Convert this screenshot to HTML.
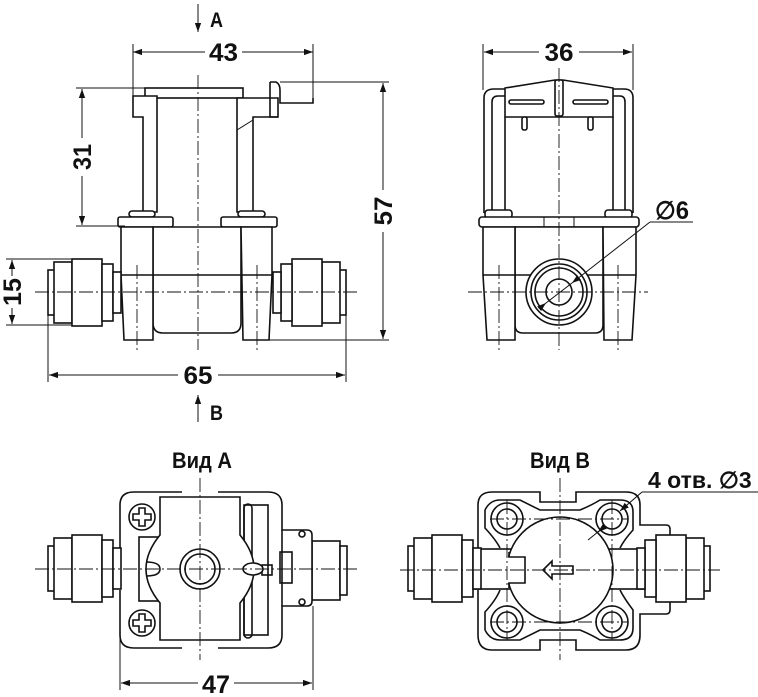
<!DOCTYPE html>
<html><head><meta charset="utf-8"><style>
html,body{margin:0;padding:0;background:#fff}
svg{display:block}
text{font-family:"Liberation Sans Narrow","Liberation Sans",sans-serif;font-weight:bold;fill:#111}
.s{fill:#fff;stroke:#111;stroke-width:1.6}
.n{fill:none;stroke:#111;stroke-width:1.6}
.t{fill:none;stroke:#111;stroke-width:1}
.c{fill:none;stroke:#111;stroke-width:0.9;stroke-dasharray:14 3 2 3}
</style></head><body>
<svg width="758" height="697" viewBox="0 0 758 697">
<defs>
<marker id="a" viewBox="0 0 10 10" refX="10" refY="5" markerWidth="9" markerHeight="9" orient="auto-start-reverse" markerUnits="userSpaceOnUse"><path d="M0,1.5 L10,5 L0,8.5 Z" fill="#111"/></marker>
<g id="fitL">
<rect class="s" x="48" y="270" width="7" height="45"/>
<rect class="s" x="54" y="262" width="18" height="61"/>
<rect class="s" x="72" y="259" width="30" height="67"/>
<rect class="s" x="102" y="264" width="11" height="57"/>
<rect class="s" x="113" y="272" width="8" height="41"/>
</g>
</defs>

<!-- ===== FRONT VIEW ===== -->
<line class="t" x1="198" y1="4" x2="198" y2="32" marker-end="url(#a)"/>
<text x="210" y="27" font-size="21" textLength="13" lengthAdjust="spacingAndGlyphs">A</text>
<line class="t" x1="133" y1="44" x2="133" y2="96"/>
<line class="t" x1="313" y1="44" x2="313" y2="103"/>
<line class="t" x1="133" y1="52" x2="205" y2="52" marker-start="url(#a)"/>
<line class="t" x1="242" y1="52" x2="313" y2="52" marker-end="url(#a)"/>
<text x="209" y="61" font-size="25" textLength="29" lengthAdjust="spacingAndGlyphs">43</text>

<rect class="s" x="145" y="88" width="98" height="10"/>
<path class="s" d="M133,96 H157 V212 H143 V117 H133 Z"/>
<path class="s" d="M237,98 H278 V117 H253 V212 H237 Z"/>
<line class="t" x1="237" y1="130" x2="253" y2="120"/>
<path class="s" d="M270,82 H276 Q280,84 280,90 V103 H313 V98"/>
<path class="n" d="M270,82 V117 H278"/>
<rect class="s" x="129" y="211" width="26" height="6" rx="3"/>
<rect class="s" x="238" y="211" width="27" height="6" rx="3"/>
<rect class="s" x="118" y="217" width="55" height="10" rx="2"/>
<rect class="s" x="221" y="217" width="56" height="10" rx="2"/>

<path class="s" d="M153,227 H241 V323 Q241,333 231,333 H163 Q153,333 153,323 Z"/>
<path class="s" d="M121,227 H153 V340 H124 L121,275 Z"/>
<path class="s" d="M241,227 H272 V275 L269,340 H243 Z"/>
<line class="n" x1="121" y1="275" x2="272" y2="275"/>
<use href="#fitL"/>
<use href="#fitL" transform="translate(394,0) scale(-1,1)"/>
<line class="c" x1="137" y1="265" x2="137" y2="350"/>
<line class="c" x1="257" y1="265" x2="257" y2="350"/>
<line class="c" x1="35" y1="292" x2="360" y2="292"/>
<line class="c" x1="198" y1="75" x2="198" y2="350"/>

<line class="t" x1="76" y1="88" x2="145" y2="88"/>
<line class="t" x1="76" y1="226" x2="125" y2="226"/>
<line class="t" x1="82" y1="89" x2="82" y2="138" marker-start="url(#a)"/>
<line class="t" x1="82" y1="176" x2="82" y2="225" marker-end="url(#a)"/>
<text transform="translate(91,157) rotate(-90)" font-size="25" text-anchor="middle" textLength="26" lengthAdjust="spacingAndGlyphs">31</text>
<line class="t" x1="280" y1="82" x2="389" y2="82"/>
<line class="t" x1="269" y1="340" x2="389" y2="340"/>
<line class="t" x1="383" y1="83" x2="383" y2="190" marker-start="url(#a)"/>
<line class="t" x1="383" y1="232" x2="383" y2="339" marker-end="url(#a)"/>
<text transform="translate(392,211) rotate(-90)" font-size="25" text-anchor="middle" textLength="29" lengthAdjust="spacingAndGlyphs">57</text>
<line class="t" x1="6" y1="259" x2="72" y2="259"/>
<line class="t" x1="6" y1="325" x2="72" y2="325"/>
<line class="t" x1="12" y1="260" x2="12" y2="276" marker-start="url(#a)"/>
<line class="t" x1="12" y1="308" x2="12" y2="324" marker-end="url(#a)"/>
<text transform="translate(21,292) rotate(-90)" font-size="25" text-anchor="middle" textLength="28" lengthAdjust="spacingAndGlyphs">15</text>
<line class="t" x1="48" y1="315" x2="48" y2="382"/>
<line class="t" x1="346" y1="315" x2="346" y2="382"/>
<line class="t" x1="49" y1="375" x2="178" y2="375" marker-start="url(#a)"/>
<line class="t" x1="218" y1="375" x2="345" y2="375" marker-end="url(#a)"/>
<text x="198" y="384" font-size="25" text-anchor="middle" textLength="29" lengthAdjust="spacingAndGlyphs">65</text>
<line class="t" x1="198" y1="422" x2="198" y2="395" marker-end="url(#a)"/>
<text x="210" y="420" font-size="21" textLength="13" lengthAdjust="spacingAndGlyphs">B</text>

<!-- ===== SIDE VIEW ===== -->
<line class="t" x1="483" y1="44" x2="483" y2="90"/>
<line class="t" x1="633" y1="44" x2="633" y2="90"/>
<line class="t" x1="484" y1="52" x2="539" y2="52" marker-start="url(#a)"/>
<line class="t" x1="579" y1="52" x2="632" y2="52" marker-end="url(#a)"/>
<text x="559" y="61" font-size="25" text-anchor="middle" textLength="29" lengthAdjust="spacingAndGlyphs">36</text>
<path class="n" d="M484,213 V98 Q484,89 494,89 H505 M613,89 H624 Q633,89 633,98 V213"/>
<path class="n" d="M492,213 V102 Q492,96 498,96 H505 M613,96 H620 Q625,96 625,102 V213"/>
<path class="s" d="M505,88 L555,80 H563 L613,88 V117 H505 Z"/>
<rect class="s" x="555" y="80" width="8" height="36" rx="2"/>
<rect class="s" x="509" y="100" width="35" height="4" rx="2"/>
<rect class="s" x="573" y="100" width="35" height="4" rx="2"/>
<rect class="s" x="522" y="117" width="5" height="13" rx="2"/>
<rect class="s" x="588" y="117" width="5" height="13" rx="2"/>
<line class="n" x1="505" y1="117" x2="505" y2="213"/>
<line class="n" x1="613" y1="117" x2="613" y2="213"/>
<rect class="s" x="485" y="210" width="27" height="8" rx="3"/>
<rect class="s" x="605" y="210" width="27" height="8" rx="3"/>
<rect class="s" x="479" y="217" width="160" height="10" rx="3"/>
<line class="t" x1="544" y1="217" x2="544" y2="227"/>
<line class="t" x1="574" y1="217" x2="574" y2="227"/>
<path class="s" d="M515,227 H603 V325 Q603,333 595,333 H523 Q515,333 515,325 Z"/>
<path class="s" d="M483,227 H515 V340 H487 L483,275 Z"/>
<path class="s" d="M603,227 H636 V275 L632,340 H604 Z"/>
<line class="n" x1="483" y1="275" x2="636" y2="275"/>
<circle class="s" cx="559" cy="292" r="33"/>
<circle class="n" cx="559" cy="292" r="28"/>
<circle class="n" cx="559" cy="292" r="24"/>
<circle class="n" cx="559" cy="292" r="13"/>
<line class="c" x1="468" y1="292" x2="648" y2="292"/>
<line class="c" x1="559" y1="68" x2="559" y2="350"/>
<line class="c" x1="499" y1="265" x2="499" y2="350"/>
<line class="c" x1="618" y1="265" x2="618" y2="350"/>
<line class="t" x1="693" y1="222" x2="650" y2="222"/>
<line class="t" x1="650" y1="222" x2="572" y2="283" marker-end="url(#a)"/>
<line class="t" x1="540" y1="308" x2="546" y2="303" marker-end="url(#a)"/>
<line class="t" x1="546" y1="303" x2="572" y2="283"/>
<text x="655" y="219" font-size="25" textLength="34" lengthAdjust="spacingAndGlyphs">∅6</text>

<!-- ===== ВИД A ===== -->
<text x="172" y="468" font-size="22" textLength="60" lengthAdjust="spacingAndGlyphs">Вид A</text>
<rect class="s" x="312" y="541" width="28" height="59"/>
<rect class="s" x="340" y="546" width="7" height="49"/>
<path class="s" d="M120,548 V505 Q120,492 134,492 H182 M218,492 H268 Q282,492 282,505 V530 H307 Q312,530 312,535 V553 H312 V585 H312 V601 Q312,606 307,606 H282 V635 Q282,648 268,648 H218 M182,648 H134 Q120,648 120,635 V590"/>
<rect class="s" x="139" y="537" width="22" height="64"/>
<g class="n">
<line x1="282" y1="530" x2="282" y2="606"/>
<circle cx="302" cy="534" r="3"/>
<circle cx="302" cy="602" r="3"/>
<rect x="280" y="552" width="12" height="31"/>
<rect x="262" y="565" width="10" height="10"/>
<rect x="244" y="505" width="24" height="130"/>
<rect x="244" y="504" width="8" height="134" rx="4"/>
</g>
<use href="#fitL" transform="translate(0,276)"/>
<path class="s" d="M160,497 H240 V535 Q254,552 254,569 Q254,586 240,603 V640 H160 V603 Q146,586 146,569 Q146,552 160,535 Z"/>
<path class="n" d="M146,562 Q160,562 160,569 Q160,576 146,576"/>
<ellipse class="s" cx="253" cy="569" rx="10" ry="6"/>
<circle class="s" cx="200" cy="569" r="20"/>
<circle class="n" cx="200" cy="569" r="15"/>
<circle class="s" cx="142" cy="517" r="13"/>
<path class="n" d="M139,508 h6 v6 h6 v6 h-6 v6 h-6 v-6 h-6 v-6 h6 Z"/>
<circle class="s" cx="142" cy="623" r="13"/>
<path class="n" d="M139,614 h6 v6 h6 v6 h-6 v6 h-6 v-6 h-6 v-6 h6 Z"/>
<line class="c" x1="35" y1="569" x2="360" y2="569"/>
<line class="c" x1="200" y1="478" x2="200" y2="660"/>
<line class="t" x1="120" y1="600" x2="120" y2="690"/>
<line class="t" x1="313" y1="606" x2="313" y2="690"/>
<line class="t" x1="121" y1="683" x2="198" y2="683" marker-start="url(#a)"/>
<line class="t" x1="234" y1="683" x2="312" y2="683" marker-end="url(#a)"/>
<text x="216" y="693" font-size="25" text-anchor="middle" textLength="28" lengthAdjust="spacingAndGlyphs">47</text>

<!-- ===== ВИД B ===== -->
<text x="530" y="468" font-size="22" textLength="60" lengthAdjust="spacingAndGlyphs">Вид B</text>
<path class="s" d="M478,548 V505 Q478,492 492,492 H540 V502 H576 V492 H626 Q640,492 640,505 V525 H666 Q670,525 670,529 V610 Q670,614 666,614 H640 V635 Q640,650 626,650 H576 V640 H540 V650 H492 Q478,650 478,635 V590"/>
<path class="n" d="M485,510 Q490,500 500,500 H520 Q530,505 540,510 H580 Q592,505 600,500 H620 Q633,500 633,512 V530 Q624,540 620,548 M485,510 V528 Q496,540 500,548 M485,630 Q490,640 500,640 H520 Q530,635 540,630 H580 Q592,635 600,640 H620 Q633,640 633,628 V610 Q624,598 620,590 M485,630 V612 Q496,600 500,590"/>
<g class="s">
<circle cx="507" cy="519" r="10"/><circle cx="612" cy="519" r="10"/>
<circle cx="507" cy="622" r="10"/><circle cx="612" cy="622" r="10"/>
</g>
<g class="n">
<circle cx="507" cy="519" r="16"/><circle cx="612" cy="519" r="16"/>
<circle cx="507" cy="622" r="16"/><circle cx="612" cy="622" r="16"/>
</g>
<rect class="s" x="472" y="549" width="180" height="40"/>
<g transform="translate(360,276)">
<rect class="s" x="48" y="270" width="7" height="45"/>
<rect class="s" x="54" y="262" width="18" height="61"/>
<rect class="s" x="72" y="259" width="30" height="67"/>
<rect class="s" x="102" y="264" width="11" height="57"/>
<rect class="s" x="113" y="272" width="8" height="41"/>
</g>
<g transform="translate(1118,276) scale(-1,1)">
<rect class="s" x="408" y="270" width="7" height="45"/>
<rect class="s" x="414" y="262" width="18" height="61"/>
<rect class="s" x="432" y="259" width="30" height="67"/>
<rect class="s" x="462" y="264" width="11" height="57"/>
<rect class="s" x="473" y="272" width="8" height="41"/>
</g>
<circle class="s" cx="560" cy="570" r="53"/>
<rect x="505" y="557" width="20" height="26" fill="#fff"/>
<path class="n" d="M509,552 V557 H525 V583 H509 V588"/>
<path class="n" d="M543,570 L552,561 V566 H573 V574 H552 V579 Z"/>
<line class="c" x1="400" y1="570" x2="720" y2="570"/>
<line class="c" x1="560" y1="478" x2="560" y2="660"/>
<g class="c">
<line x1="490" y1="519" x2="628" y2="519"/><line x1="490" y1="622" x2="628" y2="622"/>
<line x1="507" y1="500" x2="507" y2="640"/><line x1="612" y1="500" x2="612" y2="640"/>
</g>
<line class="t" x1="758" y1="492" x2="642" y2="492"/>
<line class="t" x1="642" y1="492" x2="620" y2="511" marker-end="url(#a)"/>
<line class="t" x1="604" y1="527" x2="598" y2="532" marker-end="url(#a)"/>
<line class="t" x1="604" y1="527" x2="588" y2="540"/>
<text x="648" y="488" font-size="23">4 отв. ∅3</text>
</svg>
</body></html>
